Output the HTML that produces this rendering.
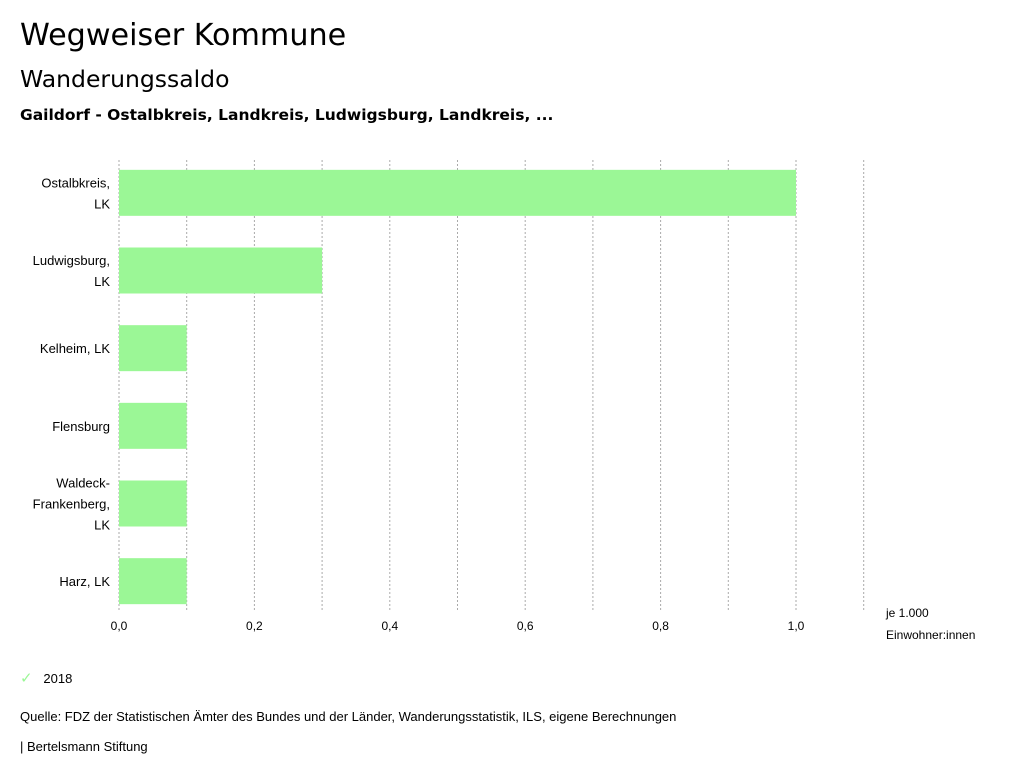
<!DOCTYPE html>
<html><head><meta charset="utf-8"><style>
body{margin:0;background:#fff;font-family:"Liberation Sans",sans-serif;}
#wrap{position:relative;width:1024px;height:780px;overflow:hidden;}
.t{position:absolute;white-space:nowrap;color:#000;}
.h{font-family:"DejaVu Sans",sans-serif;}
</style></head><body>
<div id="wrap">
<div class="t h" style="left:20px;top:18px;font-size:30.2px;">Wegweiser Kommune</div>
<div class="t h" style="left:20px;top:65px;font-size:23.5px;">Wanderungssaldo</div>
<div class="t h" style="left:20px;top:106px;font-size:15.5px;font-weight:bold;">Gaildorf - Ostalbkreis, Landkreis, Ludwigsburg, Landkreis, ...</div>
<svg id="chart" width="1024" height="780" style="position:absolute;left:0;top:0"></svg>
<div class="t" style="left:20px;top:669px;font-size:13px;"><span style="color:#9bf796;font-size:15px;">✓</span>&nbsp;&nbsp;&nbsp;2018</div>
<div class="t" style="left:20px;top:709px;font-size:13px;">Quelle: FDZ der Statistischen Ämter des Bundes und der Länder, Wanderungsstatistik, ILS, eigene Berechnungen</div>
<div class="t" style="left:20px;top:739px;font-size:13px;">| Bertelsmann Stiftung</div>
</div>
<script>
const categories=[["Ostalbkreis,","LK"],["Ludwigsburg,","LK"],["Kelheim, LK"],["Flensburg"],["Waldeck-","Frankenberg,","LK"],["Harz, LK"]];
const values2018=[1.0,0.3,0.1,0.1,0.1,0.1];
const tickValues=[0,0.2,0.4,0.6,0.8,1.0];
const tickLabels=["0,0","0,2","0,4","0,6","0,8","1,0"];
const gridValues=[0,0.1,0.2,0.3,0.4,0.5,0.6,0.7,0.8,0.9,1.0,1.1];
const NS="http://www.w3.org/2000/svg";
const svg=document.getElementById('chart');
const x0=119,x1=796,top0=154,bottom=612;
const xs=v=>x0+(x1-x0)*v;
const step=(bottom-top0+8)/categories.length;
const bandC=i=>top0+step*(i+0.5);
function mk(tag,a){const e=document.createElementNS(NS,tag);for(const k in a)e.setAttribute(k,a[k]);svg.appendChild(e);return e;}
gridValues.forEach(v=>{const l=mk('line',{x1:xs(v),x2:xs(v),y1:160,y2:612,stroke:'#aaa','stroke-width':1,'stroke-dasharray':'2,2'});

});
values2018.forEach((v,i)=>{const r=mk('rect',{x:x0,y:bandC(i)-23,width:xs(v)-x0,height:46,fill:'#9bf796'});


const lines=categories[i];const c=bandC(i);
lines.forEach((s,j)=>{const t=mk('text',{x:110,y:c+5+(j-(lines.length-1)/2)*21,'text-anchor':'end','font-size':13,'font-family':'Liberation Sans, sans-serif'});t.textContent=s;

});});
tickValues.forEach((v,i)=>{const t=mk('text',{x:xs(v),y:630,'text-anchor':'middle','font-size':12,'font-family':'Liberation Sans, sans-serif'});t.textContent=tickLabels[i];

});
[["je 1.000",617],["Einwohner:innen",639]].forEach(a=>{const t=mk('text',{x:886,y:a[1],'font-size':12,'font-family':'Liberation Sans, sans-serif'});t.textContent=a[0];

});
</script>
</body></html>
